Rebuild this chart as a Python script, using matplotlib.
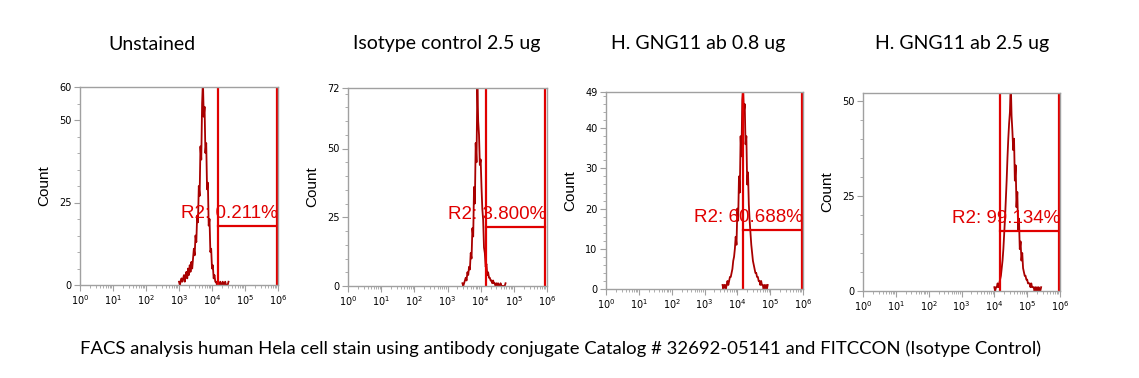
import matplotlib.pyplot as plt
from matplotlib.ticker import MultipleLocator, LogLocator, NullFormatter
import numpy as np

titles = ["Unstained", "Isotype control 2.5 ug", "H. GNG11 ab 0.8 ug", "H. GNG11 ab 2.5 ug"]
caption = ("FACS analysis human Hela cell stain using antibody conjugate "
           "Catalog # 32692-05141 and FITCCON (Isotype Control)")
gate_labels = ["R2: 0.211%", "R2: 3.800%", "R2: 60.688%", "R2: 99.134%"]

# histograms: log10 of the first bin, then counts per 0.025-decade bin
bin_width = 0.025
hist_start = [3.0, 3.45, 3.55, 4.0]
counts_unstained = [1, 0, 1, 2, 1, 2, 3, 1, 3, 4, 2, 5, 3, 6, 4, 7, 5, 8, 11, 9,
                    15, 13, 21, 19, 30, 27, 42, 38, 55, 62, 51, 54, 40, 43, 29, 31,
                    18, 20, 10, 11, 5, 6, 2, 3, 1, 1, 0, 1, 0, 0, 1, 0, 0, 1, 0,
                    0, 1, 0, 0, 0, 1]
counts_isotype = [1, 0, 1, 2, 3, 2, 5, 4, 7, 6, 12, 10, 21, 18, 36, 30, 52, 45,
                  74, 60, 55, 44, 46, 36, 28, 24, 14, 12, 7, 8, 4, 5, 3, 3, 2, 2,
                  1, 2, 1, 1, 0, 1, 0, 1, 0, 0, 1, 0, 0, 0, 0, 0, 1]
counts_gng_08 = [1, 0, 1, 1, 0, 1, 2, 1, 2, 3, 3, 4, 5, 7, 8, 10, 13, 11, 20, 17,
                 28, 24, 38, 33, 47, 50, 44, 46, 36, 38, 26, 29, 21, 17, 14, 11,
                 9, 7, 6, 5, 4, 4, 3, 3, 2, 2, 1, 2, 1, 1, 0, 1, 0, 1, 0, 1]
counts_gng_25 = [1, 0, 1, 1, 2, 1, 2, 3, 4, 6, 8, 11, 15, 19, 24, 29, 35, 40, 44,
                 47, 55, 46, 42, 37, 40, 29, 33, 22, 26, 16, 19, 11, 13, 8, 10, 6,
                 5, 4, 4, 3, 3, 2, 2, 2, 1, 2, 1, 1, 1, 0, 1, 0, 1, 0, 1, 0, 0, 1]
hist_counts = [counts_unstained, counts_isotype, counts_gng_08, counts_gng_25]

y_max = [60, 72, 49, 52]
y_labels = [[0, 25, 50, 60], [0, 25, 50, 72], [0, 10, 20, 30, 40, 49], [0, 25, 50]]
y_minor = [5, 5, 2, 5]

# R2 gate: left edge, right edge, height of the marker bar
gate_lo = [1.5e4, 1.45e4, 1.48e4, 1.48e4]
gate_hi = [9.1e5, 8.7e5, 9.1e5, 9.3e5]
gate_y = [17.9, 21.5, 14.7, 15.8]

W, H = 1139, 378
# axes boxes in pixels: left, top, right, bottom
boxes = [(80, 87, 278, 285), (348, 88, 547, 286), (606, 92, 803, 289), (863, 93, 1060, 291)]
title_x = [152, 447, 698, 962]

hist_color = '#a80000'
gate_color = '#e00000'
spine_color = '#a0a0a0'
text_font = ['Lato', 'DejaVu Sans']

fig = plt.figure(figsize=(W / 100, H / 100), dpi=100)

for i in range(4):
    l, t, r, b = boxes[i]
    ax = fig.add_axes([l / W, (H - b) / H, (r - l) / W, (b - t) / H])
    ax.set_xscale('log')
    ax.set_xlim(1, 1e6)
    ax.set_ylim(0, y_max[i])

    xs = 10 ** (hist_start[i] + bin_width * np.arange(len(hist_counts[i])))
    ax.plot(xs, hist_counts[i], color=hist_color, lw=1.3)

    # gate
    ax.axvline(gate_lo[i], color=gate_color, lw=1.6)
    ax.axvline(gate_hi[i], color=gate_color, lw=1.6)
    ax.plot([gate_lo[i], gate_hi[i]], [gate_y[i], gate_y[i]], color=gate_color, lw=1.6)
    ax.annotate(gate_labels[i], (gate_hi[i], gate_y[i]), xytext=(1, 3),
                textcoords='offset points', ha='right', va='bottom',
                color=gate_color, fontsize=13.5, family='Liberation Sans')

    for s in ax.spines.values():
        s.set_color(spine_color)
        s.set_linewidth(1.0)

    ax.set_yticks(y_labels[i])
    ax.set_yticklabels([str(v) for v in y_labels[i]])
    ax.yaxis.set_minor_locator(MultipleLocator(y_minor[i]))
    ax.set_xticks([10 ** k for k in range(7)])
    ax.set_xticklabels([r'$10^{%d}$' % k for k in range(7)])
    ax.xaxis.set_minor_locator(LogLocator(base=10, subs=np.arange(2, 10)))
    ax.xaxis.set_minor_formatter(NullFormatter())
    ax.tick_params(axis='both', which='major', length=4, color=spine_color,
                   labelsize=7, pad=2)
    ax.tick_params(axis='both', which='minor', length=2.5, color=spine_color)
    ax.set_ylabel('Count', fontsize=11, family='Liberation Sans', labelpad=6)

    fig.text(title_x[i] / W, 1 - 44 / H, titles[i], ha='center', va='center',
             fontsize=14, family=text_font)

fig.text(561 / W, 1 - 349 / H, caption, ha='center', va='center', fontsize=13.3,
         family=text_font)

fig.savefig('out.png', dpi=100)
